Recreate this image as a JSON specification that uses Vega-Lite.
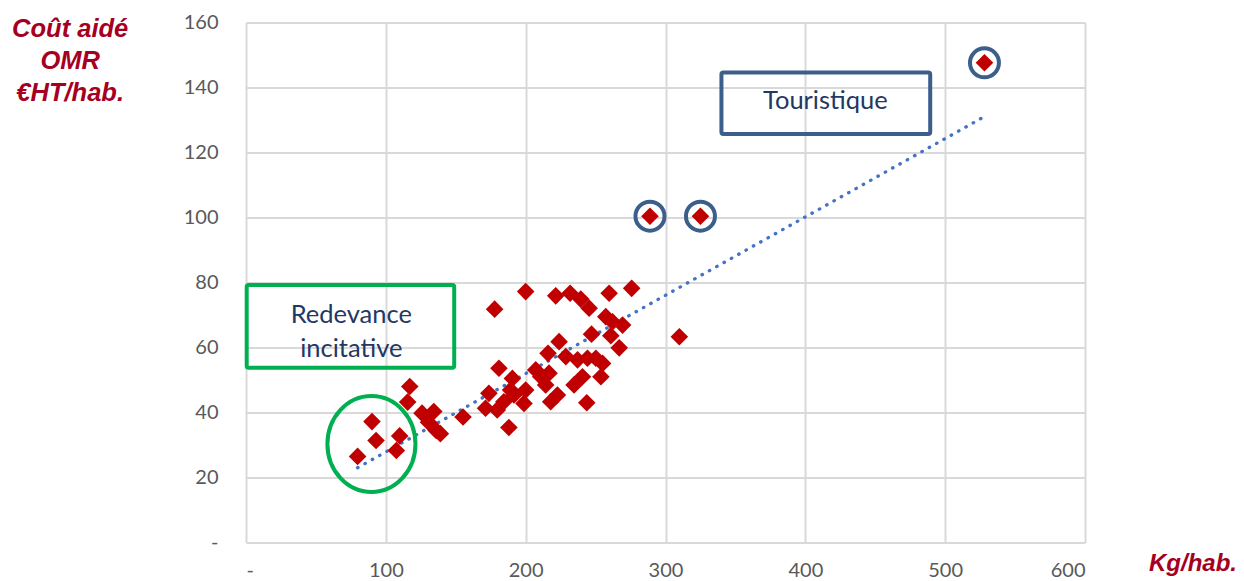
{
  "$schema": "https://vega.github.io/schema/vega-lite/v6.json",
  "width": 839,
  "height": 520,
  "autosize": "none",
  "padding": {"left": 246, "top": 22.5, "right": 159, "bottom": 38.5},
  "background": "white",
  "config": {
    "view": {"stroke": null},
    "axis": {
      "grid": true,
      "gridColor": "#D9D9D9",
      "gridWidth": 2,
      "domain": false,
      "ticks": false,
      "labelFont": "Lato",
      "labelFontSize": 20,
      "labelColor": "#595959",
      "titleFont": "Liberation Sans",
      "titleFontWeight": "bold",
      "titleFontStyle": "italic",
      "titleColor": "#A50021",
      "titleFontSize": 24
    }
  },
  "datasets": {
    "pts": [
      {"x": 79.8, "y": 26.5}, {"x": 90.1, "y": 37.2}, {"x": 93.0, "y": 31.4}, {"x": 109.9, "y": 32.8},
      {"x": 107.5, "y": 28.3}, {"x": 117.1, "y": 48.0}, {"x": 115.6, "y": 43.2}, {"x": 125.9, "y": 39.8},
      {"x": 134.3, "y": 40.3}, {"x": 130.5, "y": 37.0}, {"x": 136.0, "y": 34.5}, {"x": 139.0, "y": 33.5},
      {"x": 155.2, "y": 38.6}, {"x": 171.3, "y": 41.3}, {"x": 173.7, "y": 45.9}, {"x": 179.7, "y": 40.8},
      {"x": 184.4, "y": 43.3}, {"x": 188.0, "y": 35.4}, {"x": 189.2, "y": 46.9}, {"x": 190.5, "y": 50.5},
      {"x": 191.6, "y": 45.4}, {"x": 198.8, "y": 42.8}, {"x": 200.0, "y": 46.9}, {"x": 180.9, "y": 53.6},
      {"x": 177.8, "y": 71.8}, {"x": 207.2, "y": 53.1}, {"x": 210.8, "y": 51.0}, {"x": 214.3, "y": 48.5},
      {"x": 216.7, "y": 52.1}, {"x": 216.0, "y": 58.2}, {"x": 217.9, "y": 43.3}, {"x": 222.7, "y": 45.4},
      {"x": 223.9, "y": 61.8}, {"x": 228.7, "y": 57.2}, {"x": 234.6, "y": 48.5}, {"x": 237.1, "y": 56.2},
      {"x": 240.6, "y": 51.0}, {"x": 243.7, "y": 43.0}, {"x": 244.2, "y": 56.7}, {"x": 250.2, "y": 56.7},
      {"x": 253.8, "y": 51.0}, {"x": 255.0, "y": 55.1}, {"x": 247.1, "y": 64.1}, {"x": 260.9, "y": 63.6},
      {"x": 266.9, "y": 59.9}, {"x": 257.3, "y": 69.5}, {"x": 262.1, "y": 67.9}, {"x": 269.3, "y": 66.9},
      {"x": 200.0, "y": 77.2}, {"x": 221.5, "y": 75.9}, {"x": 231.8, "y": 76.7}, {"x": 239.4, "y": 74.9},
      {"x": 245.4, "y": 72.1}, {"x": 259.7, "y": 76.7}, {"x": 275.8, "y": 78.2}, {"x": 309.9, "y": 63.3},
      {"x": 288.9, "y": 100.4}, {"x": 325.0, "y": 100.4}, {"x": 528.1, "y": 147.6}
    ],
    "trend": [{"x": 79.8, "y": 23.0}, {"x": 526.2, "y": 130.6}],
    "circles": [{"x": 288.9, "y": 100.4}, {"x": 325.0, "y": 100.4}, {"x": 528.1, "y": 147.6}],
    "ellipse": [{"x": 89.7, "y": 30.3}],
    "boxTour": [{"x": 340.0, "x2": 489.3, "y": 144.6, "y2": 125.7}],
    "boxRed": [{"x": 0.5, "x2": 148.9, "y": 79.2, "y2": 53.8}],
    "txtTour": [{"x": 414.3, "y": 135.8, "label": "Touristique"}],
    "txtRed": [{"x": 75.3, "y": 70.0, "label": ["Redevance", "incitative"]}]
  },
  "encoding": {
    "x": {
      "field": "x", "type": "quantitative",
      "scale": {"domain": [0, 600], "nice": false, "zero": false},
      "axis": {
        "values": [0, 100, 200, 300, 400, 500, 600],
        "labelExpr": "datum.value == 0 ? '-' : datum.label",
        "labelPadding": 18,
        "title": "Kg/hab.",
        "titleX": 946.5, "titleY": 27.5,
        "titleAlign": "center", "titleBaseline": "alphabetic", "titleAngle": 0
      }
    },
    "y": {
      "field": "y", "type": "quantitative",
      "scale": {"domain": [0, 160], "nice": false, "zero": false},
      "axis": {
        "values": [0, 20, 40, 60, 80, 100, 120, 140, 160],
        "labelExpr": "datum.value == 0 ? '-' : datum.label",
        "labelPadding": 28,
        "title": ["Coût aidé", "OMR", "€HT/hab."],
        "titleX": -176.3, "titleY": 14.2,
        "titleFontSize": 25.5,
        "titleAlign": "center", "titleBaseline": "alphabetic", "titleAngle": 0,
        "titleLineHeight": 31.7
      }
    }
  },
  "layer": [
    {
      "data": {"name": "trend"},
      "mark": {"type": "line", "color": "#4472C4", "strokeWidth": 3.3, "strokeDash": [0.5, 7.9], "strokeCap": "round"}
    },
    {
      "data": {"name": "pts"},
      "mark": {"type": "point", "shape": "diamond", "filled": true, "color": "#C00000", "size": 310, "opacity": 1}
    },
    {
      "data": {"name": "circles"},
      "mark": {"type": "point", "shape": "circle", "filled": false, "stroke": "#3C5E8B", "strokeWidth": 4, "size": 840, "opacity": 1}
    },
    {
      "data": {"name": "ellipse"},
      "mark": {"type": "point", "shape": "M-0.917,0A0.917,1,0,1,0,0.917,0A0.917,1,0,1,0,-0.917,0Z", "filled": false, "stroke": "#00B050", "strokeWidth": 4, "size": 9216, "opacity": 1}
    },
    {
      "data": {"name": "boxTour"},
      "mark": {"type": "rect", "fill": null, "stroke": "#3C5E8B", "strokeWidth": 4, "cornerRadius": 2},
      "encoding": {"x2": {"field": "x2"}, "y2": {"field": "y2"}}
    },
    {
      "data": {"name": "boxRed"},
      "mark": {"type": "rect", "fill": null, "stroke": "#00B050", "strokeWidth": 4, "cornerRadius": 2},
      "encoding": {"x2": {"field": "x2"}, "y2": {"field": "y2"}}
    },
    {
      "data": {"name": "txtTour"},
      "mark": {"type": "text", "font": "Lato", "fontSize": 25.5, "color": "#1F3864", "align": "center", "baseline": "middle"},
      "encoding": {"text": {"field": "label"}}
    },
    {
      "data": {"name": "txtRed"},
      "mark": {"type": "text", "font": "Lato", "fontSize": 25.5, "color": "#1F3864", "align": "center", "baseline": "middle", "lineHeight": 34},
      "encoding": {"text": {"field": "label"}}
    }
  ]
}
